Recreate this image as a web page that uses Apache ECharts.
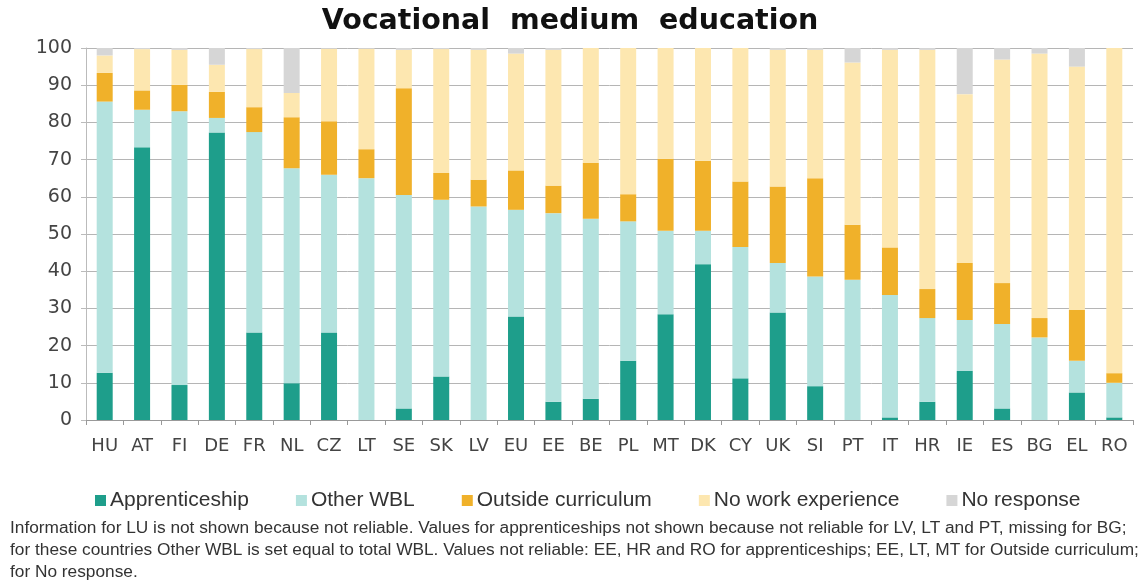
<!DOCTYPE html>
<html lang="en">
  <head>
    <meta charset="UTF-8" />
    <title>Vocational medium education</title>
    <script src="https://cdn.jsdelivr.net/npm/echarts@6/dist/echarts.min.js"></script>
    <style>
      html, body { margin: 0; padding: 0; background: #fff; }
      #main { width: 1140px; height: 585px; }
    </style>
  </head>
  <body>
    <div id="main"></div>

    <script>
      const countries = ['HU', 'AT', 'FI', 'DE', 'FR', 'NL', 'CZ', 'LT', 'SE', 'SK', 'LV', 'EU', 'EE', 'BE',
        'PL', 'MT', 'DK', 'CY', 'UK', 'SI', 'PT', 'IT', 'HR', 'IE', 'ES', 'BG', 'EL', 'RO'];

      // shares in %, per segment (they add up to ~100 per country)
      const apprenticeship = [12.7, 73.3, 9.4, 77.3, 23.5, 9.9, 23.5, 0, 3.1, 11.7, 0, 27.8, 4.9, 5.7,
        15.9, 28.4, 41.9, 11.2, 28.9, 9.1, 0, 0.7, 4.9, 13.2, 3.1, 0, 7.4, 0.7];
      const otherWbl = [72.9, 10.1, 73.6, 3.9, 53.9, 57.8, 42.4, 65, 57.4, 47.5, 57.4, 28.7, 50.7, 48.4,
        37.5, 22.5, 9, 35.3, 13.3, 29.5, 37.7, 32.9, 22.5, 13.7, 22.7, 22.2, 8.5, 9.3];
      const outsideCurriculum = [7.7, 5.2, 7.1, 7, 6.7, 13.7, 14.4, 7.8, 28.7, 7.2, 7.2, 10.6, 7.4, 15,
        7.3, 19.3, 18.8, 17.6, 20.6, 26.4, 14.8, 12.8, 7.8, 15.3, 11, 5.2, 13.7, 2.6];
      const noWorkExperience = [4.7, 11.1, 9.4, 7.3, 15.6, 6.5, 19.5, 27, 10.3, 33.3, 34.9, 31.4, 36.5, 30.9,
        39.3, 29.8, 30.3, 35.9, 36.7, 34.5, 43.6, 53.1, 64.3, 45.4, 60.1, 71.1, 65.4, 87.4];
      const noResponse = [2, 0.3, 0.5, 4.5, 0.3, 12.1, 0.2, 0.2, 0.5, 0.3, 0.5, 1.5, 0.5, 0,
        0, 0, 0, 0, 0.5, 0.5, 3.9, 0.5, 0.5, 12.4, 3.1, 1.5, 5, 0];

      const yTicks = [0, 10, 20, 30, 40, 50, 60, 70, 80, 90, 100];

      const notes = [
        'Information for LU is not shown because not reliable. Values for apprenticeships not shown because not reliable for LV, LT and PT, missing for BG;',
        'for these countries Other WBL is set equal to total WBL. Values not reliable: EE, HR and RO for apprenticeships; EE, LT, MT for Outside curriculum; EL',
        'for No response.'
      ];

      const seriesDefs = [
        { name: 'Apprenticeship', data: apprenticeship, color: '#1e9e8b' },
        { name: 'Other WBL', data: otherWbl, color: '#b4e2de' },
        { name: 'Outside curriculum', data: outsideCurriculum, color: '#f0b12a' },
        { name: 'No work experience', data: noWorkExperience, color: '#fde7b0' },
        { name: 'No response', data: noResponse, color: '#d6d6d6' }
      ];

      const chart = echarts.init(document.getElementById('main'));

      const options = {
        animation: false,
        title: {
          text: 'Vocational  medium  education',
          left: 'center',
          top: 2,
          textStyle: {
            fontFamily: 'DejaVu Sans',
            fontWeight: 'bold',
            fontSize: 28.5,
            color: '#111'
          }
        },
        legend: {
          left: 90,
          top: 485,
          itemWidth: 11,
          itemHeight: 11,
          itemGap: 47,
          icon: 'rect',
          textStyle: {
            fontFamily: 'Liberation Sans',
            fontSize: 21,
            color: '#333',
            padding: [0, 0, 0, -1]
          },
          data: seriesDefs.map((s) => s.name)
        },
        grid: {
          left: 86,
          right: 7,
          top: 48,
          bottom: 165
        },
        xAxis: {
          type: 'category',
          data: countries,
          axisLine: { lineStyle: { color: '#999' } },
          axisTick: { show: true, length: 5, lineStyle: { color: '#999' } },
          axisLabel: {
            fontFamily: 'DejaVu Sans',
            fontSize: 18,
            color: '#444',
            margin: 17
          }
        },
        yAxis: {
          type: 'value',
          min: yTicks[0],
          max: yTicks[yTicks.length - 1],
          interval: 10,
          axisLine: { show: true, lineStyle: { color: '#bbb' } },
          axisTick: { show: true, length: 5, lineStyle: { color: '#bbb' } },
          splitLine: { lineStyle: { color: '#b5b5b5' } },
          axisLabel: {
            fontFamily: 'DejaVu Sans',
            fontSize: 19,
            color: '#444',
            margin: 14
          }
        },
        series: seriesDefs.map((s) => ({
          name: s.name,
          type: 'bar',
          stack: 'total',
          barWidth: 16,
          data: s.data,
          itemStyle: { color: s.color }
        })),
        graphic: notes.map((line, i) => ({
          type: 'text',
          left: 10,
          top: 520 + i * 22,
          style: {
            text: line,
            fontFamily: 'Liberation Sans',
            fontSize: 17.3,
            fill: '#333'
          }
        }))
      };

      chart.setOption(options);
    </script>
  </body>
</html>
